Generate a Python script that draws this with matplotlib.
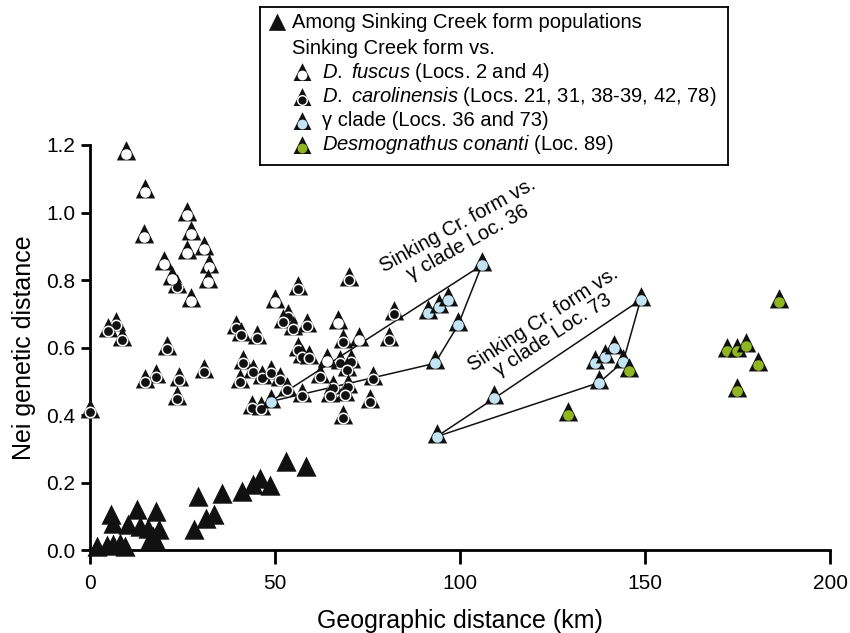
import numpy as np
import matplotlib.pyplot as plt
from matplotlib.path import Path

plt.rcParams['font.family'] = ['Liberation Sans', 'DejaVu Sans']
plt.rcParams['mathtext.fontset'] = 'custom'
plt.rcParams['mathtext.rm'] = 'Liberation Sans'
plt.rcParams['mathtext.it'] = 'Liberation Sans:italic'

# --- data (km, Nei D) ---
among_x = [1.8, 4.5, 6.3, 8.1, 9.5, 5.6, 6.3, 10.4, 12.6, 13.5, 15.8, 17.8, 16.9,
           18.7, 16.2, 17.5, 29.1, 28.2, 31.3, 33.5, 35.8, 41.0, 44.1, 45.9, 48.6,
           52.9, 58.3]
among_y = [0.0, 0.003, 0.005, 0.01, 0.0, 0.094, 0.069, 0.064, 0.109, 0.059, 0.054,
           0.104, 0.03, 0.049, 0.02, 0.02, 0.148, 0.051, 0.084, 0.094, 0.158, 0.163,
           0.183, 0.202, 0.18, 0.252, 0.237]

carol_x = [0.0, 7.0, 4.9, 8.6, 20.7, 17.8, 14.9, 24.1, 23.4, 30.8, 23.4,
           70.1, 56.3, 53.4, 52.2, 54.9, 58.6, 45.0, 39.5, 40.7, 68.5, 82.2, 80.9,
           56.3, 57.3, 59.3, 41.4, 44.1, 40.5, 46.4, 48.8, 51.4, 53.2, 57.4, 43.7,
           46.1, 62.1, 67.6, 70.5, 69.4, 65.8, 64.9, 69.8, 68.9, 76.6, 75.7, 68.5]
carol_y = [0.41, 0.667, 0.65, 0.622, 0.597, 0.512, 0.499, 0.504, 0.447, 0.528, 0.778,
           0.80, 0.772, 0.689, 0.676, 0.654, 0.664, 0.627, 0.657, 0.637, 0.617, 0.699,
           0.622, 0.593, 0.573, 0.568, 0.553, 0.528, 0.499, 0.509, 0.525, 0.504, 0.474,
           0.456, 0.42, 0.417, 0.512, 0.553, 0.556, 0.533, 0.481, 0.456, 0.484, 0.459,
           0.506, 0.44, 0.392]

fuscus_x = [9.6, 14.9, 14.5, 26.1, 27.2, 26.1, 30.8, 32.2, 31.9, 20.0, 22.1, 27.3,
            50.0, 67.1, 72.8, 64.1]
fuscus_y = [1.172, 1.062, 0.928, 0.993, 0.936, 0.879, 0.891, 0.838, 0.795, 0.846,
            0.802, 0.739, 0.736, 0.672, 0.622, 0.56]

gamma_x = [48.8, 93.2, 99.5, 105.9, 93.7, 109.2, 148.8, 144.1, 137.6,
           91.4, 94.4, 96.8, 136.5, 139.2, 141.6]
gamma_y = [0.44, 0.553, 0.667, 0.844, 0.336, 0.449, 0.741, 0.558, 0.496,
           0.701, 0.721, 0.741, 0.553, 0.573, 0.60]

conanti_x = [145.8, 129.3, 186.3, 172.1, 174.8, 177.2, 180.6, 174.8]
conanti_y = [0.53, 0.399, 0.736, 0.591, 0.591, 0.604, 0.548, 0.472]

# outlines joining the gamma clade localities
loc36_x = [48.8, 105.9, 99.5, 93.2, 48.8]
loc36_y = [0.44, 0.844, 0.667, 0.553, 0.44]
loc73_x = [93.7, 109.2, 148.8, 144.1, 137.6, 93.7]
loc73_y = [0.336, 0.449, 0.741, 0.558, 0.496, 0.336]

BLACK = '#111111'
BLUE = '#c3e4f4'
GREEN = '#8fb521'

# triangle with its incircle centred on the origin
tri = Path([(0, 1.382), (-1, -0.618), (1, -0.618), (0, 1.382)],
           [Path.MOVETO, Path.LINETO, Path.LINETO, Path.CLOSEPOLY])
TRI_S = 370


def ringed(a, xs, ys, fill, z0, dot=False, scale=1.0):
    for i, (x, y) in enumerate(zip(xs, ys)):
        z = z0 + i * 0.01
        a.scatter(x, y, s=TRI_S * scale, marker=tri, c=BLACK, lw=0, zorder=z, clip_on=False)
        if dot:
            a.scatter(x, y, s=74 * scale, marker='o', c='white', lw=0, zorder=z + 0.003, clip_on=False)
            a.scatter(x, y, s=40 * scale, marker='o', c=BLACK, lw=0, zorder=z + 0.006, clip_on=False)
        else:
            a.scatter(x, y, s=58 * scale, marker='o', c=fill, lw=0, zorder=z + 0.003, clip_on=False)


fig = plt.figure(figsize=(8.5, 6.33), dpi=100)
ax = fig.add_axes([90 / 850, 1 - 550 / 633, 740 / 850, 405 / 633])

ax.plot(loc36_x, loc36_y, color=BLACK, lw=1.1, zorder=2)
ax.plot(loc73_x, loc73_y, color=BLACK, lw=1.1, zorder=2)

ringed(ax, carol_x, carol_y, None, 3, dot=True)
ringed(ax, fuscus_x, fuscus_y, 'white', 4)
ringed(ax, gamma_x, gamma_y, BLUE, 5)
ringed(ax, conanti_x, conanti_y, GREEN, 6)
ax.scatter(among_x, among_y, s=400, marker=tri, c=BLACK, lw=0, zorder=7, clip_on=False)

ax.text(100.8, 0.936, 'Sinking Cr. form vs.\nγ clade Loc. 36', rotation=29,
        ha='center', va='center', rotation_mode='anchor', multialignment='center',
        fontsize=14.5, linespacing=1.0)
ax.text(123.8, 0.661, 'Sinking Cr. form vs.\nγ clade Loc. 73', rotation=33,
        ha='center', va='center', rotation_mode='anchor', multialignment='center',
        fontsize=14.5, linespacing=1.0)

ax.set_xlim(0, 200)
ax.set_ylim(0, 1.2)
ax.set_xticks([0, 50, 100, 150, 200])
ax.set_yticks(np.arange(0, 1.21, 0.2))
ax.set_yticklabels([f'{v:.1f}' for v in np.arange(0, 1.21, 0.2)])
ax.tick_params(axis='x', direction='out', length=10, width=2, pad=7, labelsize=15)
ax.tick_params(axis='y', direction='out', length=6.5, width=2, pad=4, labelsize=15)
for side in ['top', 'right']:
    ax.spines[side].set_visible(False)
for side in ['left', 'bottom']:
    ax.spines[side].set_linewidth(2)

ax.set_xlabel('Geographic distance (km)', fontsize=18)
ax.xaxis.set_label_coords(0.5, -0.175)
ax.xaxis.label.set_verticalalignment('center')
ax.set_ylabel('Nei genetic distance', fontsize=18)
ax.yaxis.set_label_coords(-0.089, 0.5)
ax.yaxis.label.set_verticalalignment('center')

# hand-built legend box
lax = fig.add_axes([260 / 850, 1 - 165 / 633, 468 / 850, 158 / 633])
lax.set_xlim(260, 728)
lax.set_ylim(165, 7)
lax.set_xticks([])
lax.set_yticks([])
for sp in lax.spines.values():
    sp.set_linewidth(1.3)

rows_y = [23, 48, 72, 97, 121, 145]
lax.scatter([277], [rows_y[0] + 2], s=TRI_S * 0.8, marker=tri, c=BLACK, lw=0, clip_on=False)
lax.text(292, rows_y[0], 'Among Sinking Creek form populations', va='center', fontsize=14.5)
lax.text(292, rows_y[1], 'Sinking Creek form vs.', va='center', fontsize=14.5)
ringed(lax, [302], [rows_y[2] + 3], 'white', 3, scale=0.85)
ringed(lax, [302], [rows_y[3] + 3], None, 3, dot=True, scale=0.85)
ringed(lax, [302], [rows_y[4] + 3], BLUE, 3, scale=0.85)
ringed(lax, [302], [rows_y[5] + 3], GREEN, 3, scale=0.85)
lax.text(322, rows_y[2], r'$\mathit{D.\ fuscus}$ (Locs. 2 and 4)', va='center', fontsize=14.5)
lax.text(322, rows_y[3], r'$\mathit{D.\ carolinensis}$ (Locs. 21, 31, 38-39, 42, 78)',
         va='center', fontsize=14.5)
lax.text(322, rows_y[4], 'γ clade (Locs. 36 and 73)', va='center', fontsize=14.5)
lax.text(322, rows_y[5], r'$\mathit{Desmognathus\ conanti}$ (Loc. 89)', va='center', fontsize=14.5)

fig.savefig('out.png', dpi=100)
